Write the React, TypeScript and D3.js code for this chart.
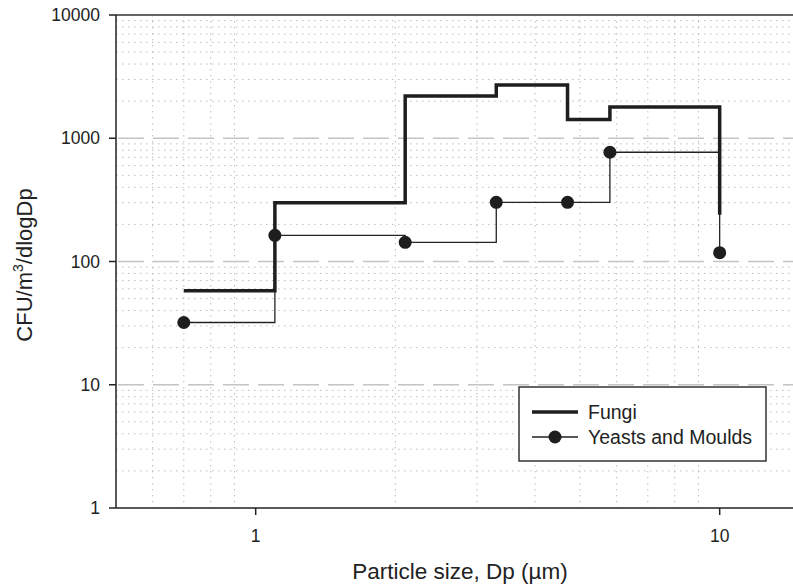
import { useEffect, useRef } from 'react';
import * as d3 from 'd3';

// impactor stage sizes (µm) and concentrations (CFU/m3/dlogDp)
const sizes = [0.7, 1.1, 2.1, 3.3, 4.7, 5.8, 10];
const fungi = [58, 300, 2200, 2700, 1420, 1790, 240];
const yeasts = [32, 163, 143, 302, 302, 770, 118];

const yTicks = [1, 10, 100, 1000, 10000];
const xTicks = [1, 10];
const legendLabels = ['Fungi', 'Yeasts and Moulds'];

const W = 793;
const H = 585;

export default function App() {
  const svgRef = useRef<SVGSVGElement>(null);

  useEffect(() => {
    if (!svgRef.current) return;
    const svg = d3.select(svgRef.current);
    svg.selectAll('*').remove();

    const left = 116, top = 15, bottom = 508;
    const decade = 464;

    const x = d3.scaleLog()
      .domain([0.5, 15])
      .range([left, left + decade * Math.log10(30)]);
    const y = d3.scaleLog()
      .domain([1, 10000])
      .range([bottom, top]);

    const font = 'Liberation Sans, Arial, sans-serif';
    const grid = svg.append('g');

    // minor vertical grid
    const xMinor = [0.6, 0.7, 0.8, 0.9, 2, 3, 4, 5, 6, 7, 8, 9];
    grid.selectAll('.vx')
      .data(xMinor)
      .enter()
      .append('line')
      .attr('x1', d => x(d)).attr('x2', d => x(d))
      .attr('y1', top).attr('y2', bottom)
      .attr('stroke', '#bcbcbc')
      .attr('stroke-width', 1)
      .attr('stroke-dasharray', '1.5,4.5');

    // minor horizontal grid
    const yMinor: number[] = [];
    [1, 10, 100, 1000].forEach(b => {
      for (let k = 2; k <= 9; k++) yMinor.push(b * k);
    });
    grid.selectAll('.hy')
      .data(yMinor)
      .enter()
      .append('line')
      .attr('x1', left).attr('x2', W)
      .attr('y1', d => y(d)).attr('y2', d => y(d))
      .attr('stroke', '#bcbcbc')
      .attr('stroke-width', 1)
      .attr('stroke-dasharray', '1.5,4.5');

    // major dashed grid
    grid.selectAll('.major')
      .data([10, 100, 1000])
      .enter()
      .append('line')
      .attr('x1', left + 2).attr('x2', W)
      .attr('y1', d => y(d)).attr('y2', d => y(d))
      .attr('stroke', '#c4c4c4')
      .attr('stroke-width', 1.5)
      .attr('stroke-dasharray', '26,9');

    // top frame
    svg.append('line')
      .attr('x1', left).attr('x2', W)
      .attr('y1', top).attr('y2', top)
      .attr('stroke', '#666')
      .attr('stroke-width', 2);

    // axes
    svg.append('line')
      .attr('x1', left).attr('x2', left)
      .attr('y1', top).attr('y2', bottom)
      .attr('stroke', '#222').attr('stroke-width', 1.5);
    svg.append('line')
      .attr('x1', left).attr('x2', W)
      .attr('y1', bottom).attr('y2', bottom)
      .attr('stroke', '#222').attr('stroke-width', 1.5);

    svg.selectAll('.ytick')
      .data(yTicks)
      .enter()
      .append('line')
      .attr('x1', left - 7).attr('x2', left)
      .attr('y1', d => y(d)).attr('y2', d => y(d))
      .attr('stroke', '#222').attr('stroke-width', 1.5);
    svg.selectAll('.ylab')
      .data(yTicks)
      .enter()
      .append('text')
      .attr('x', left - 16)
      .attr('y', d => y(d))
      .attr('dy', '0.35em')
      .attr('text-anchor', 'end')
      .attr('font-family', font)
      .attr('font-size', 17.5)
      .attr('fill', '#222')
      .text(d => String(d));

    svg.selectAll('.xtick')
      .data(xTicks)
      .enter()
      .append('line')
      .attr('x1', d => x(d)).attr('x2', d => x(d))
      .attr('y1', bottom).attr('y2', bottom + 7)
      .attr('stroke', '#222').attr('stroke-width', 1.5);
    svg.selectAll('.xlab')
      .data(xTicks)
      .enter()
      .append('text')
      .attr('x', d => x(d))
      .attr('y', 542)
      .attr('text-anchor', 'middle')
      .attr('font-family', font)
      .attr('font-size', 17.5)
      .attr('fill', '#222')
      .text(d => String(d));

    // axis titles
    svg.append('text')
      .attr('x', 460).attr('y', 579)
      .attr('text-anchor', 'middle')
      .attr('font-family', font)
      .attr('font-size', 22.5)
      .attr('fill', '#222')
      .text('Particle size, Dp (µm)');

    const yt = svg.append('text')
      .attr('transform', 'translate(32,265) rotate(-90)')
      .attr('text-anchor', 'middle')
      .attr('font-family', font)
      .attr('font-size', 22)
      .attr('fill', '#222');
    yt.append('tspan').text('CFU/m');
    yt.append('tspan').attr('dy', -9).attr('font-size', 14).text('3');
    yt.append('tspan').attr('dy', 9).text('/dlogDp');

    // step lines
    const line = d3.line<number>()
      .x((_, i) => x(sizes[i]))
      .y(d => y(d))
      .curve(d3.curveStepAfter);

    svg.append('path')
      .datum(yeasts)
      .attr('d', line)
      .attr('fill', 'none')
      .attr('stroke', '#222')
      .attr('stroke-width', 1.3);

    svg.append('path')
      .datum(fungi)
      .attr('d', line)
      .attr('fill', 'none')
      .attr('stroke', '#1e1e1e')
      .attr('stroke-width', 3.5)
      .attr('stroke-linejoin', 'miter')
      .attr('stroke-linecap', 'butt');

    svg.selectAll('.dot')
      .data(yeasts)
      .enter()
      .append('circle')
      .attr('cx', (_, i) => x(sizes[i]))
      .attr('cy', d => y(d))
      .attr('r', 6.5)
      .attr('fill', '#1e1e1e');

    // legend
    const lg = svg.append('g');
    lg.append('rect')
      .attr('x', 519).attr('y', 387)
      .attr('width', 247).attr('height', 74)
      .attr('fill', '#fff')
      .attr('stroke', '#333')
      .attr('stroke-width', 1.5);
    lg.append('line')
      .attr('x1', 532).attr('x2', 578)
      .attr('y1', 412).attr('y2', 412)
      .attr('stroke', '#1e1e1e').attr('stroke-width', 3.5);
    lg.append('line')
      .attr('x1', 532).attr('x2', 578)
      .attr('y1', 437).attr('y2', 437)
      .attr('stroke', '#222').attr('stroke-width', 1.3);
    lg.append('circle')
      .attr('cx', 555).attr('cy', 437).attr('r', 6.5)
      .attr('fill', '#1e1e1e');
    lg.selectAll('.lt')
      .data(legendLabels)
      .enter()
      .append('text')
      .attr('x', 588)
      .attr('y', (_, i) => 419 + i * 25)
      .attr('font-family', font)
      .attr('font-size', 19.5)
      .attr('fill', '#222')
      .text(d => d);
  }, []);

  return (
    <svg
      ref={svgRef}
      width={W}
      height={H}
      style={{ position: 'absolute', left: 0, top: 0, background: '#fff' }}
    />
  );
}
